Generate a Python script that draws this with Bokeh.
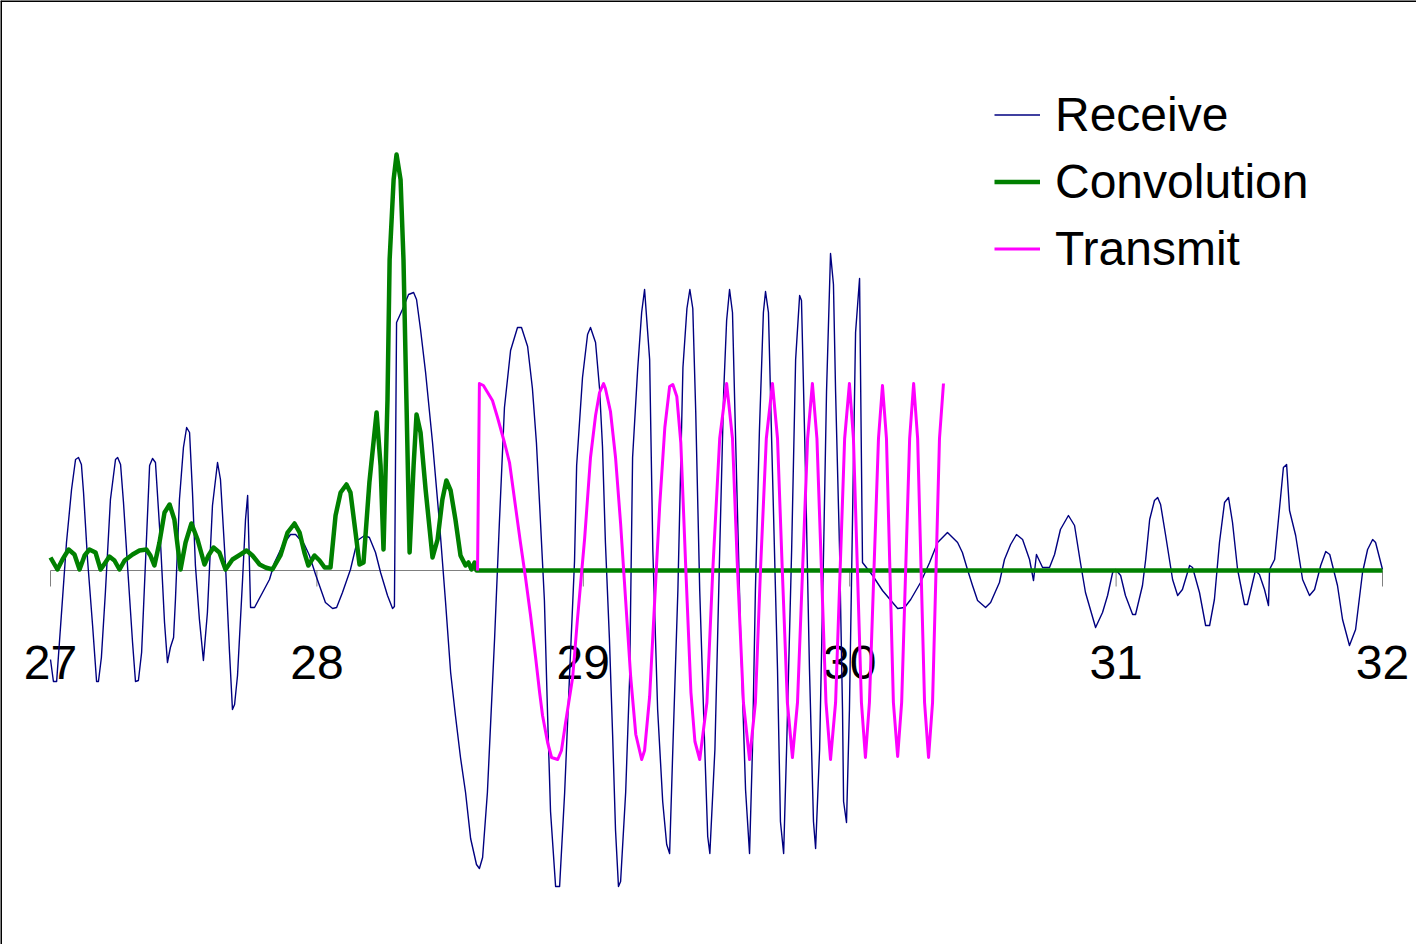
from bokeh.plotting import figure
from bokeh.models import Range1d, Span, Legend, LegendItem
from bokeh.embed import file_html
from bokeh.resources import INLINE
from bokeh.core.properties import value

tick_values = [27, 28, 29, 30, 31, 32]
tick_labels = ["27", "28", "29", "30", "31", "32"]

receive_x = [
    27.000, 27.011, 27.023, 27.038, 27.060, 27.079, 27.094, 27.105, 27.116, 27.124,
    27.139, 27.158, 27.173, 27.180, 27.191, 27.206, 27.225, 27.244, 27.252, 27.263,
    27.274, 27.289, 27.308, 27.319, 27.330, 27.342, 27.357, 27.372, 27.383, 27.394,
    27.413, 27.428, 27.439, 27.450, 27.462, 27.469, 27.484, 27.499, 27.511, 27.522,
    27.533, 27.544, 27.559, 27.574, 27.589, 27.608, 27.627, 27.638, 27.657, 27.672,
    27.683, 27.691, 27.702, 27.721, 27.732, 27.740, 27.751, 27.766, 27.796, 27.822,
    27.841, 27.871, 27.901, 27.920, 27.953, 27.972, 27.995, 28.032, 28.059, 28.074,
    28.096, 28.126, 28.152, 28.179, 28.197, 28.220, 28.239, 28.265, 28.284, 28.291,
    28.299, 28.321, 28.344, 28.363, 28.374, 28.389, 28.408, 28.434, 28.460, 28.483,
    28.502, 28.520, 28.539, 28.558, 28.577, 28.599, 28.610, 28.622, 28.640, 28.667,
    28.685, 28.704, 28.727, 28.753, 28.768, 28.791, 28.809, 28.824, 28.836, 28.854,
    28.866, 28.877, 28.896, 28.911, 28.930, 28.948, 28.967, 28.975, 28.997, 29.016,
    29.027, 29.046, 29.061, 29.072, 29.083, 29.098, 29.110, 29.121, 29.132, 29.140,
    29.159, 29.174, 29.185, 29.204, 29.219, 29.230, 29.249, 29.261, 29.279, 29.298,
    29.313, 29.324, 29.336, 29.355, 29.374, 29.389, 29.400, 29.411, 29.422, 29.437,
    29.456, 29.467, 29.475, 29.494, 29.512, 29.527, 29.538, 29.549, 29.560, 29.571,
    29.590, 29.609, 29.624, 29.635, 29.646, 29.661, 29.676, 29.684, 29.695, 29.710,
    29.729, 29.740, 29.752, 29.763, 29.782, 29.797, 29.812, 29.819, 29.834, 29.849,
    29.864, 29.872, 29.887, 29.902, 29.913, 29.928, 29.939, 29.947, 29.962, 29.973,
    29.977, 29.988, 29.999, 30.011, 30.022, 30.037, 30.048, 30.086, 30.123, 30.161,
    30.180, 30.206, 30.229, 30.266, 30.300, 30.330, 30.367, 30.405, 30.423, 30.442,
    30.461, 30.480, 30.510, 30.529, 30.562, 30.581, 30.604, 30.626, 30.649, 30.675,
    30.690, 30.701, 30.724, 30.750, 30.769, 30.791, 30.821, 30.844, 30.866, 30.885,
    30.923, 30.949, 30.968, 30.987, 30.998, 31.017, 31.035, 31.062, 31.073, 31.099,
    31.111, 31.126, 31.144, 31.156, 31.167, 31.186, 31.212, 31.231, 31.249, 31.276,
    31.287, 31.313, 31.336, 31.351, 31.369, 31.388, 31.407, 31.422, 31.437, 31.456,
    31.482, 31.493, 31.523, 31.538, 31.557, 31.572, 31.576, 31.595, 31.613, 31.628,
    31.640, 31.651, 31.674, 31.700, 31.726, 31.745, 31.768, 31.787, 31.802, 31.831,
    31.850, 31.876, 31.899, 31.925, 31.944, 31.963, 31.974, 32.000,
]
receive_y = [
    -0.89, -1.11, -1.11, -0.55, 0.28, 0.81, 1.11, 1.13, 1.06, 0.78,
    0.11, -0.55, -1.11, -1.11, -0.87, -0.22, 0.71, 1.11, 1.13, 1.06,
    0.68, 0.05, -0.72, -1.11, -1.10, -0.82, 0.11, 1.05, 1.12, 1.08,
    0.28, -0.52, -0.92, -0.77, -0.67, -0.29, 0.71, 1.23, 1.43, 1.38,
    0.78, 0.05, -0.49, -0.90, -0.42, 0.65, 1.08, 0.91, 0.05, -0.82,
    -1.39, -1.34, -1.05, -0.09, 0.51, 0.75, -0.37, -0.37, -0.22, -0.09,
    0.08, 0.25, 0.36, 0.36, 0.26, 0.15, -0.04, -0.32, -0.38, -0.37,
    -0.22, 0.01, 0.30, 0.35, 0.33, 0.18, -0.02, -0.25, -0.38, -0.36,
    2.48, 2.61, 2.76, 2.78, 2.71, 2.41, 1.98, 1.28, 0.48, -0.32,
    -1.02, -1.45, -1.87, -2.22, -2.68, -2.94, -2.98, -2.87, -2.22, -0.68,
    0.48, 1.63, 2.20, 2.43, 2.43, 2.24, 1.82, 1.28, 0.66, -0.30,
    -1.45, -2.41, -3.16, -3.16, -2.22, -1.07, 0.09, 1.05, 1.93, 2.36,
    2.43, 2.28, 1.82, 1.24, 0.28, -0.68, -1.64, -2.60, -3.16, -3.11,
    -2.22, -1.07, 1.13, 2.01, 2.58, 2.81, 2.11, 0.20, -1.39, -2.31,
    -2.74, -2.83, -1.79, -0.20, 2.03, 2.62, 2.81, 2.62, 1.59, -0.20,
    -1.79, -2.66, -2.83, -1.79, 0.20, 1.79, 2.50, 2.81, 2.58, 1.39,
    -0.60, -2.19, -2.83, -1.79, -0.20, 1.39, 2.58, 2.79, 2.58, 0.99,
    -0.99, -2.51, -2.83, -1.79, 0.20, 2.11, 2.75, 2.70, 0.99, -0.99,
    -2.51, -2.78, -1.79, 0.20, 1.79, 3.17, 2.86, 1.79, 0.20, -1.39,
    -2.31, -2.52, -1.39, 0.59, 2.38, 2.92, 0.08, -0.05, -0.20, -0.32,
    -0.38, -0.37, -0.29, -0.12, 0.08, 0.28, 0.38, 0.28, 0.18, 0.01,
    -0.15, -0.30, -0.37, -0.32, -0.12, 0.11, 0.26, 0.36, 0.31, 0.11,
    -0.10, 0.16, 0.03, 0.03, 0.16, 0.41, 0.55, 0.45, 0.08, -0.22,
    -0.57, -0.42, -0.25, -0.02, 0.01, -0.05, -0.25, -0.44, -0.44, -0.15,
    0.11, 0.51, 0.70, 0.73, 0.66, 0.35, -0.09, -0.25, -0.19, 0.05,
    0.03, -0.22, -0.55, -0.55, -0.29, 0.28, 0.68, 0.73, 0.48, 0.01,
    -0.34, -0.34, 0.00, -0.04, -0.19, -0.35, 0.01, 0.11, 0.61, 1.03,
    1.06, 0.60, 0.35, -0.09, -0.25, -0.19, 0.05, 0.19, 0.16, -0.15,
    -0.49, -0.75, -0.59, -0.02, 0.21, 0.31, 0.28, 0.01,
]

convolution_x = [
    27.000, 27.026, 27.045, 27.068, 27.090, 27.109, 27.128, 27.146, 27.169, 27.188,
    27.206, 27.221, 27.240, 27.259, 27.278, 27.308, 27.334, 27.360, 27.375, 27.390,
    27.409, 27.428, 27.447, 27.465, 27.488, 27.507, 27.529, 27.552, 27.578, 27.593,
    27.612, 27.634, 27.657, 27.683, 27.713, 27.736, 27.758, 27.785, 27.807, 27.833,
    27.863, 27.890, 27.916, 27.935, 27.953, 27.968, 27.991, 28.010, 28.029, 28.051,
    28.070, 28.089, 28.111, 28.126, 28.145, 28.160, 28.175, 28.197, 28.224, 28.239,
    28.250, 28.265, 28.273, 28.288, 28.299, 28.314, 28.325, 28.336, 28.348, 28.363,
    28.374, 28.389, 28.408, 28.434, 28.453, 28.471, 28.486, 28.502, 28.520, 28.539,
    28.558, 28.569, 28.580, 28.592, 28.599, 32.000,
]
convolution_y = [
    0.13, 0.01, 0.11, 0.21, 0.16, 0.01, 0.15, 0.21, 0.18, 0.01,
    0.08, 0.14, 0.10, 0.01, 0.10, 0.16, 0.20, 0.21, 0.15, 0.05,
    0.28, 0.58, 0.66, 0.51, 0.01, 0.28, 0.47, 0.31, 0.06, 0.15,
    0.23, 0.18, 0.01, 0.11, 0.16, 0.20, 0.15, 0.06, 0.03, 0.01,
    0.15, 0.38, 0.47, 0.38, 0.18, 0.05, 0.15, 0.10, 0.03, 0.03,
    0.55, 0.78, 0.86, 0.78, 0.38, 0.06, 0.08, 0.88, 1.58, 1.05,
    0.21, 1.71, 3.11, 3.91, 4.16, 3.91, 3.11, 1.71, 0.18, 1.05,
    1.56, 1.38, 0.81, 0.13, 0.31, 0.71, 0.90, 0.80, 0.51, 0.15,
    0.05, 0.08, 0.01, 0.08, 0.00, 0.00,
]

transmit_x = [
    28.603, 28.610, 28.625, 28.659, 28.678, 28.704, 28.723, 28.746, 28.764, 28.783,
    28.802, 28.821, 28.836, 28.847, 28.866, 28.881, 28.904, 28.918, 28.933, 28.960,
    28.978, 29.005, 29.027, 29.046, 29.061, 29.076, 29.083, 29.102, 29.121, 29.140,
    29.159, 29.178, 29.197, 29.219, 29.230, 29.249, 29.268, 29.287, 29.306, 29.324,
    29.336, 29.351, 29.366, 29.385, 29.404, 29.419, 29.437, 29.464, 29.486, 29.512,
    29.538, 29.560, 29.579, 29.601, 29.624, 29.646, 29.665, 29.687, 29.710, 29.729,
    29.747, 29.766, 29.785, 29.804, 29.823, 29.842, 29.860, 29.877, 29.894, 29.911,
    29.928, 29.947, 29.964, 29.981, 29.999, 30.014, 30.029, 30.044, 30.059, 30.074,
    30.091, 30.108, 30.123, 30.138, 30.151, 30.164, 30.180, 30.195, 30.210, 30.225,
    30.240, 30.255, 30.268, 30.281, 30.296, 30.311, 30.324, 30.337, 30.352,
]
transmit_y = [
    0.00, 1.87, 1.85, 1.70, 1.53, 1.28, 1.08, 0.63, 0.28, -0.07,
    -0.45, -0.87, -1.22, -1.45, -1.72, -1.87, -1.89, -1.80, -1.53, -1.07,
    -0.49, 0.32, 1.13, 1.55, 1.78, 1.87, 1.82, 1.59, 1.13, 0.47,
    -0.30, -1.07, -1.64, -1.89, -1.80, -1.26, -0.30, 0.66, 1.43, 1.84,
    1.86, 1.74, 1.28, 0.00, -1.22, -1.71, -1.89, -1.32, 0.00, 1.32,
    1.87, 1.32, 0.00, -1.32, -1.89, -1.32, 0.00, 1.32, 1.87, 1.32,
    0.00, -1.32, -1.87, -1.32, 0.00, 1.32, 1.87, 1.32, 0.00, -1.32,
    -1.89, -1.32, 0.00, 1.32, 1.87, 1.32, 0.00, -1.32, -1.87, -1.32,
    0.00, 1.32, 1.85, 1.32, 0.00, -1.32, -1.86, -1.32, 0.00, 1.32,
    1.87, 1.32, 0.00, -1.32, -1.87, -1.32, 0.00, 1.32, 1.87,
]

X0, X1 = 26.8123, 32.1276
Y0, Y1 = -3.74, 5.70

p = figure(
    width=1416, height=944,
    x_range=Range1d(X0, X1), y_range=Range1d(Y0, Y1),
    output_backend="svg", toolbar_location=None,
    x_axis_location=None, y_axis_location=None,
    min_border=0,
)
p.grid.visible = False
p.outline_line_color = None
p.background_fill_color = "white"
p.border_fill_color = "white"

# frame edges (left and top)
p.add_layout(Span(location=X0, dimension="height", line_color="black", line_width=3))
p.add_layout(Span(location=Y1, dimension="width", line_color="black", line_width=3))

# horizontal axis at zero
n = len(tick_values)
p.line(x=[tick_values[0], tick_values[-1]], y=[0, 0], line_color="#808080", line_width=1)
p.segment(x0=tick_values, y0=[0] * n, x1=tick_values, y1=[-0.16] * n,
          line_color="#808080", line_width=1)
p.text(x=tick_values, y=[-0.92] * n, text=tick_labels,
       text_font=value("Liberation Sans"), text_font_size="48px",
       text_align="center", text_baseline="alphabetic", text_color="black")

r1 = p.line(receive_x, receive_y, line_color="#000080", line_width=1.4, line_join="round")
r2 = p.line(convolution_x, convolution_y, line_color="#008000", line_width=4.5, line_join="round")
r3 = p.line(transmit_x, transmit_y, line_color="#FF00FF", line_width=3, line_join="round")

legend = Legend(
    items=[
        LegendItem(label="Receive", renderers=[r1]),
        LegendItem(label="Convolution", renderers=[r2]),
        LegendItem(label="Transmit", renderers=[r3]),
    ],
    location=(994, 662),
    label_text_font="Liberation Sans",
    label_text_font_size="48px",
    label_text_color="black",
    glyph_width=46, glyph_height=67, label_height=67,
    label_standoff=15, spacing=0, padding=0, margin=0,
    border_line_color=None, background_fill_alpha=0,
)
p.add_layout(legend)

open("out.html", "w").write(file_html(p, INLINE))
